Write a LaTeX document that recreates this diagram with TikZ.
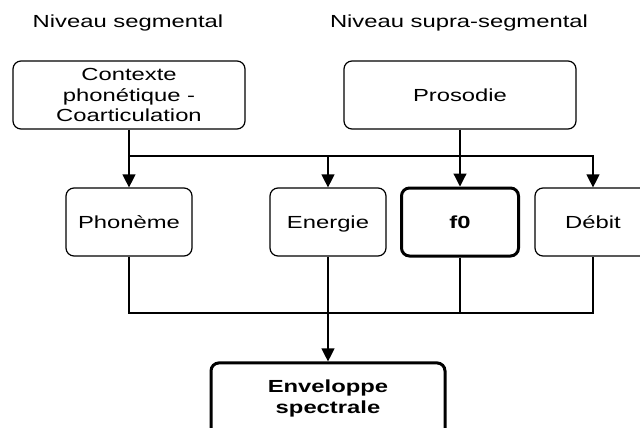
\documentclass[tikz,border=0pt]{standalone}
\usepackage{fontspec}
\setmainfont{Liberation Sans}[FakeStretch=1.36]
\usetikzlibrary{arrows.meta,positioning,calc}

\begin{document}
\begin{tikzpicture}[x=1pt, y=-1pt,
    box/.style={draw, rounded corners=8pt, line width=1.2pt, minimum height=68pt, minimum width=116pt, align=center, inner sep=2pt, text height=12.6pt, text depth=0pt, font=\fontsize{17.5}{20.4}\selectfont},
    keybox/.style={box, line width=3pt, font=\fontsize{17.5}{20.4}\selectfont\bfseries},
    title/.style={anchor=base, font=\fontsize{17.5}{20.4}\selectfont},
    arr/.style={-{Triangle[length=13pt, width=13pt]}, line width=1.2pt},
    link/.style={line width=1.2pt}
]
\clip (0,0) rectangle (640,428);
% Niveaux
\node[title] (seg) at (128,28) {Niveau segmental};
\node[title] (supra) at (459,28) {Niveau supra-segmental};

% Sources
\node[box, minimum width=232pt, text height=, text depth=] (ctx) at (129,95) {Contexte\\phonétique -\\Coarticulation};
\node[box, minimum width=232pt] (pros) at (460,95) {Prosodie};

% Parametres
\node[box, minimum width=126pt] (phon) at (129,222) {Phonème};
\node[box] (nrg) at (328,222) {Energie};
\node[keybox, minimum width=117pt] (fzero) at (460,222) {f0};
\node[box] (deb) at (593,222) {Débit};

% Sortie (coupee en bas)
\node[keybox, minimum width=234pt, minimum height=0pt, inner ysep=17pt, text height=, text depth=30pt, anchor=base] (env) at (328,413) {Enveloppe\\spectrale};

\coordinate (bus) at (0,156);
\coordinate (low) at (0,313);

% Vers les parametres
\draw[arr] (ctx) -- (phon);
\draw[arr] (ctx.south |- bus) -| (deb.north);
\draw[arr] (nrg.north |- bus) -- (nrg.north);
\draw[arr] (pros) -- (fzero);

% Vers l'enveloppe
\draw[link] (phon.south) |- (deb.south |- low) -- (deb.south);
\draw[link] (fzero.south) -- (fzero.south |- low);
\draw[arr] (nrg.south) -- (env.north);
\end{tikzpicture}
\end{document}
